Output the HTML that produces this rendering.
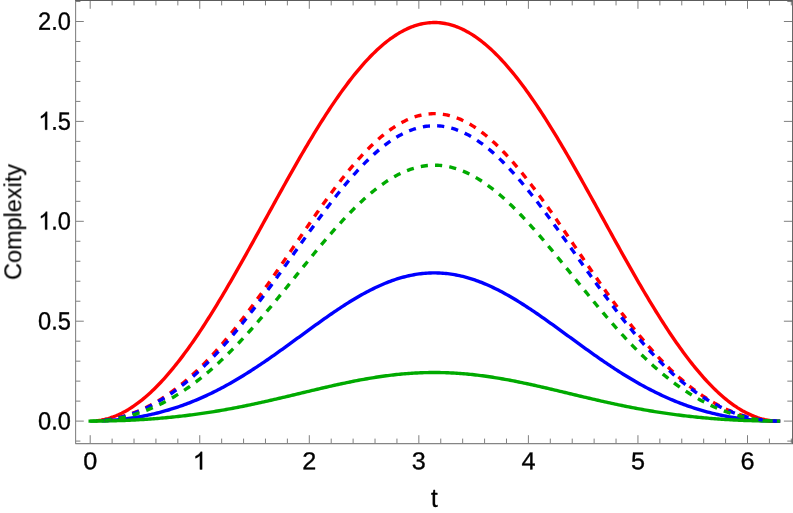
<!DOCTYPE html>
<html><head><meta charset="utf-8"><title>Complexity plot</title>
<style>
html,body{margin:0;padding:0;background:#fff;}
body{width:793px;height:513px;overflow:hidden;font-family:"Liberation Sans",sans-serif;}
svg{display:block;}
</style></head><body>
<svg width="793" height="513" viewBox="0 0 793 513">
<rect x="0" y="0" width="793" height="513" fill="#fff"/>
<path d="M90.20,443.50 v-8.30 M90.20,0.50 v8.30 M112.11,443.50 v-4.90 M112.11,0.50 v4.90 M134.02,443.50 v-4.90 M134.02,0.50 v4.90 M155.93,443.50 v-4.90 M155.93,0.50 v4.90 M177.84,443.50 v-4.90 M177.84,0.50 v4.90 M199.75,443.50 v-8.30 M199.75,0.50 v8.30 M221.66,443.50 v-4.90 M221.66,0.50 v4.90 M243.57,443.50 v-4.90 M243.57,0.50 v4.90 M265.48,443.50 v-4.90 M265.48,0.50 v4.90 M287.39,443.50 v-4.90 M287.39,0.50 v4.90 M309.30,443.50 v-8.30 M309.30,0.50 v8.30 M331.21,443.50 v-4.90 M331.21,0.50 v4.90 M353.12,443.50 v-4.90 M353.12,0.50 v4.90 M375.03,443.50 v-4.90 M375.03,0.50 v4.90 M396.94,443.50 v-4.90 M396.94,0.50 v4.90 M418.85,443.50 v-8.30 M418.85,0.50 v8.30 M440.76,443.50 v-4.90 M440.76,0.50 v4.90 M462.67,443.50 v-4.90 M462.67,0.50 v4.90 M484.58,443.50 v-4.90 M484.58,0.50 v4.90 M506.49,443.50 v-4.90 M506.49,0.50 v4.90 M528.40,443.50 v-8.30 M528.40,0.50 v8.30 M550.31,443.50 v-4.90 M550.31,0.50 v4.90 M572.22,443.50 v-4.90 M572.22,0.50 v4.90 M594.13,443.50 v-4.90 M594.13,0.50 v4.90 M616.04,443.50 v-4.90 M616.04,0.50 v4.90 M637.95,443.50 v-8.30 M637.95,0.50 v8.30 M659.86,443.50 v-4.90 M659.86,0.50 v4.90 M681.77,443.50 v-4.90 M681.77,0.50 v4.90 M703.68,443.50 v-4.90 M703.68,0.50 v4.90 M725.59,443.50 v-4.90 M725.59,0.50 v4.90 M747.50,443.50 v-8.30 M747.50,0.50 v8.30 M769.41,443.50 v-4.90 M769.41,0.50 v4.90 M791.32,443.50 v-4.90 M791.32,0.50 v4.90 M75.50,441.08 h4.90 M792.20,441.08 h-4.90 M75.50,421.10 h8.30 M792.20,421.10 h-8.30 M75.50,401.12 h4.90 M792.20,401.12 h-4.90 M75.50,381.14 h4.90 M792.20,381.14 h-4.90 M75.50,361.16 h4.90 M792.20,361.16 h-4.90 M75.50,341.18 h4.90 M792.20,341.18 h-4.90 M75.50,321.20 h8.30 M792.20,321.20 h-8.30 M75.50,301.22 h4.90 M792.20,301.22 h-4.90 M75.50,281.24 h4.90 M792.20,281.24 h-4.90 M75.50,261.26 h4.90 M792.20,261.26 h-4.90 M75.50,241.28 h4.90 M792.20,241.28 h-4.90 M75.50,221.30 h8.30 M792.20,221.30 h-8.30 M75.50,201.32 h4.90 M792.20,201.32 h-4.90 M75.50,181.34 h4.90 M792.20,181.34 h-4.90 M75.50,161.36 h4.90 M792.20,161.36 h-4.90 M75.50,141.38 h4.90 M792.20,141.38 h-4.90 M75.50,121.40 h8.30 M792.20,121.40 h-8.30 M75.50,101.42 h4.90 M792.20,101.42 h-4.90 M75.50,81.44 h4.90 M792.20,81.44 h-4.90 M75.50,61.46 h4.90 M792.20,61.46 h-4.90 M75.50,41.48 h4.90 M792.20,41.48 h-4.90 M75.50,21.50 h8.30 M792.20,21.50 h-8.30 M75.50,1.52 h4.90 M792.20,1.52 h-4.90" stroke="#5e5e5e" stroke-width="0.8" fill="none"/>
<path d="M75.60,0.50 V443.60 H793.00" fill="none" stroke="#858585" stroke-width="1.1" stroke-linejoin="round"/>
<path d="M75.10,0.5 H793" fill="none" stroke="#5c5c5c" stroke-width="1"/>
<path d="M792.5,0 V444.00" fill="none" stroke="#686868" stroke-width="1"/>
<path d="M97.87,420.63 L99.57,420.39 L101.27,420.12 L102.97,419.79 L104.68,419.42 L106.38,419.00 L108.08,418.54 L109.78,418.03 L111.48,417.47 L113.18,416.87 L114.88,416.22 L116.59,415.53 L118.29,414.79 L119.99,414.00 L121.69,413.18 L123.39,412.30 L125.09,411.38 L126.80,410.42 L128.50,409.42 L130.20,408.36 L131.90,407.27 L133.60,406.13 L135.30,404.95 L137.01,403.73 L138.71,402.46 L140.41,401.15 L142.11,399.80 L143.81,398.40 L145.51,396.97 L147.22,395.49 L148.92,393.98 L150.62,392.42 L152.32,390.82 L154.02,389.18 L155.72,387.50 L157.43,385.79 L159.13,384.03 L160.83,382.24 L162.53,380.40 L164.23,378.53 L165.93,376.63 L167.64,374.68 L169.34,372.70 L171.04,370.69 L172.74,368.64 L174.44,366.55 L176.14,364.43 L177.85,362.27 L179.55,360.09 L181.25,357.86 L182.95,355.61 L184.65,353.32 L186.35,351.01 L188.06,348.66 L189.76,346.28 L191.46,343.87 L193.16,341.43 L194.86,338.96 L196.56,336.47 L198.27,333.95 L199.97,331.40 L201.67,328.82 L203.37,326.22 L205.07,323.59 L206.77,320.94 L208.47,318.26 L210.18,315.56 L211.88,312.83 L213.58,310.09 L215.28,307.32 L216.98,304.53 L218.68,301.72 L220.39,298.90 L222.09,296.05 L223.79,293.18 L225.49,290.30 L227.19,287.40 L228.89,284.48 L230.60,281.55 L232.30,278.60 L234.00,275.64 L235.70,272.66 L237.40,269.68 L239.10,266.68 L240.81,263.66 L242.51,260.64 L244.21,257.61 L245.91,254.57 L247.61,251.51 L249.31,248.46 L251.02,245.39 L252.72,242.32 L254.42,239.24 L256.12,236.16 L257.82,233.07 L259.52,229.98 L261.23,226.89 L262.93,223.79 L264.63,220.69 L266.33,217.60 L268.03,214.50 L269.73,211.40 L271.44,208.31 L273.14,205.22 L274.84,202.13 L276.54,199.05 L278.24,195.97 L279.94,192.89 L281.65,189.82 L283.35,186.76 L285.05,183.71 L286.75,180.67 L288.45,177.63 L290.15,174.61 L291.86,171.59 L293.56,168.59 L295.26,165.60 L296.96,162.62 L298.66,159.66 L300.36,156.71 L302.06,153.77 L303.77,150.86 L305.47,147.95 L307.17,145.07 L308.87,142.20 L310.57,139.36 L312.27,136.53 L313.98,133.72 L315.68,130.94 L317.38,128.17 L319.08,125.43 L320.78,122.71 L322.48,120.01 L324.19,117.34 L325.89,114.70 L327.59,112.08 L329.29,109.48 L330.99,106.92 L332.69,104.38 L334.40,101.87 L336.10,99.39 L337.80,96.93 L339.50,94.51 L341.20,92.12 L342.90,89.76 L344.61,87.43 L346.31,85.14 L348.01,82.88 L349.71,80.65 L351.41,78.46 L353.11,76.30 L354.82,74.18 L356.52,72.09 L358.22,70.04 L359.92,68.03 L361.62,66.06 L363.32,64.12 L365.03,62.22 L366.73,60.37 L368.43,58.55 L370.13,56.77 L371.83,55.03 L373.53,53.34 L375.24,51.68 L376.94,50.07 L378.64,48.50 L380.34,46.97 L382.04,45.49 L383.74,44.04 L385.45,42.65 L387.15,41.29 L388.85,39.99 L390.55,38.72 L392.25,37.51 L393.95,36.33 L395.65,35.21 L397.36,34.13 L399.06,33.09 L400.76,32.11 L402.46,31.17 L404.16,30.28 L405.86,29.43 L407.57,28.64 L409.27,27.89 L410.97,27.19 L412.67,26.53 L414.37,25.93 L416.07,25.38 L417.78,24.87 L419.48,24.41 L421.18,24.01 L422.88,23.65 L424.58,23.34 L426.28,23.08 L427.99,22.87 L429.69,22.71 L431.39,22.59 L433.09,22.53 L434.79,22.52 L436.49,22.56 L438.20,22.64 L439.90,22.78 L441.60,22.97 L443.30,23.20 L445.00,23.49 L446.70,23.82 L448.41,24.21 L450.11,24.64 L451.81,25.12 L453.51,25.65 L455.21,26.23 L456.91,26.86 L458.62,27.54 L460.32,28.26 L462.02,29.03 L463.72,29.85 L465.42,30.72 L467.12,31.64 L468.83,32.60 L470.53,33.61 L472.23,34.67 L473.93,35.77 L475.63,36.92 L477.33,38.12 L479.03,39.36 L480.74,40.64 L482.44,41.97 L484.14,43.35 L485.84,44.77 L487.54,46.23 L489.24,47.74 L490.95,49.29 L492.65,50.88 L494.35,52.51 L496.05,54.19 L497.75,55.91 L499.45,57.67 L501.16,59.46 L502.86,61.30 L504.56,63.18 L506.26,65.10 L507.96,67.05 L509.66,69.05 L511.37,71.08 L513.07,73.15 L514.77,75.25 L516.47,77.39 L518.17,79.57 L519.87,81.78 L521.58,84.02 L523.28,86.30 L524.98,88.61 L526.68,90.95 L528.38,93.33 L530.08,95.73 L531.79,98.17 L533.49,100.64 L535.19,103.13 L536.89,105.66 L538.59,108.21 L540.29,110.79 L542.00,113.40 L543.70,116.03 L545.40,118.69 L547.10,121.38 L548.80,124.08 L550.50,126.82 L552.21,129.57 L553.91,132.34 L555.61,135.14 L557.31,137.96 L559.01,140.80 L560.71,143.65 L562.42,146.53 L564.12,149.42 L565.82,152.33 L567.52,155.26 L569.22,158.20 L570.92,161.16 L572.62,164.13 L574.33,167.11 L576.03,170.11 L577.73,173.12 L579.43,176.14 L581.13,179.17 L582.83,182.21 L584.54,185.26 L586.24,188.31 L587.94,191.38 L589.64,194.45 L591.34,197.53 L593.04,200.61 L594.75,203.69 L596.45,206.78 L598.15,209.88 L599.85,212.97 L601.55,216.07 L603.25,219.17 L604.96,222.26 L606.66,225.36 L608.36,228.45 L610.06,231.54 L611.76,234.63 L613.46,237.72 L615.17,240.80 L616.87,243.87 L618.57,246.94 L620.27,250.01 L621.97,253.06 L623.67,256.11 L625.38,259.15 L627.08,262.17 L628.78,265.19 L630.48,268.20 L632.18,271.19 L633.88,274.17 L635.59,277.14 L637.29,280.10 L638.99,283.04 L640.69,285.96 L642.39,288.87 L644.09,291.76 L645.80,294.64 L647.50,297.49 L649.20,300.33 L650.90,303.15 L652.60,305.95 L654.30,308.73 L656.01,311.48 L657.71,314.22 L659.41,316.93 L661.11,319.62 L662.81,322.28 L664.51,324.92 L666.21,327.54 L667.92,330.13 L669.62,332.69 L671.32,335.23 L673.02,337.74 L674.72,340.22 L676.42,342.67 L678.13,345.09 L679.83,347.49 L681.53,349.85 L683.23,352.18 L684.93,354.49 L686.63,356.76 L688.34,358.99 L690.04,361.20 L691.74,363.37 L693.44,365.51 L695.14,367.61 L696.84,369.68 L698.55,371.71 L700.25,373.71 L701.95,375.67 L703.65,377.60 L705.35,379.49 L707.05,381.34 L708.76,383.15 L710.46,384.92 L712.16,386.66 L713.86,388.36 L715.56,390.02 L717.26,391.63 L718.97,393.21 L720.67,394.75 L722.37,396.25 L724.07,397.70 L725.77,399.12 L727.47,400.49 L729.18,401.82 L730.88,403.11 L732.58,404.35 L734.28,405.55 L735.98,406.71 L737.68,407.83 L739.39,408.90 L741.09,409.93 L742.79,410.92 L744.49,411.86 L746.19,412.75 L747.89,413.60 L749.60,414.41 L751.30,415.17 L753.00,415.88 L754.70,416.55 L756.40,417.18 L758.10,417.76 L759.80,418.29 L761.51,418.78 L763.21,419.22 L764.91,419.61 L766.61,419.96 L768.31,420.26 L770.01,420.52 L771.72,420.73 L773.42,420.89 L775.12,421.01 L776.82,421.08 L778.52,421.10" fill="none" stroke="#ff0000" stroke-width="3.4" stroke-linecap="square" stroke-linejoin="round"/>
<path d="M103.35,420.80 L105.03,420.72 L106.72,420.63 L108.41,420.52 L110.10,420.41 L111.79,420.29 L113.47,420.16 L115.16,420.01 L116.85,419.86 L118.54,419.70 L120.23,419.53 L121.91,419.34 L123.60,419.15 L125.29,418.94 L126.98,418.73 L128.67,418.50 L130.35,418.27 L132.04,418.02 L133.73,417.76 L135.42,417.49 L137.10,417.21 L138.79,416.92 L140.48,416.62 L142.17,416.31 L143.86,415.99 L145.54,415.65 L147.23,415.30 L148.92,414.95 L150.61,414.58 L152.30,414.20 L153.98,413.81 L155.67,413.40 L157.36,412.99 L159.05,412.56 L160.74,412.12 L162.42,411.67 L164.11,411.21 L165.80,410.73 L167.49,410.25 L169.18,409.75 L170.86,409.24 L172.55,408.71 L174.24,408.18 L175.93,407.63 L177.62,407.07 L179.30,406.49 L180.99,405.91 L182.68,405.31 L184.37,404.70 L186.06,404.07 L187.74,403.44 L189.43,402.79 L191.12,402.13 L192.81,401.45 L194.49,400.77 L196.18,400.07 L197.87,399.35 L199.56,398.63 L201.25,397.89 L202.93,397.14 L204.62,396.38 L206.31,395.60 L208.00,394.81 L209.69,394.01 L211.37,393.20 L213.06,392.37 L214.75,391.53 L216.44,390.68 L218.13,389.82 L219.81,388.94 L221.50,388.05 L223.19,387.15 L224.88,386.24 L226.57,385.32 L228.25,384.38 L229.94,383.44 L231.63,382.48 L233.32,381.51 L235.01,380.53 L236.69,379.53 L238.38,378.53 L240.07,377.52 L241.76,376.49 L243.45,375.46 L245.13,374.41 L246.82,373.35 L248.51,372.29 L250.20,371.21 L251.88,370.13 L253.57,369.03 L255.26,367.93 L256.95,366.82 L258.64,365.70 L260.32,364.57 L262.01,363.43 L263.70,362.29 L265.39,361.14 L267.08,359.98 L268.76,358.81 L270.45,357.64 L272.14,356.46 L273.83,355.28 L275.52,354.09 L277.20,352.89 L278.89,351.69 L280.58,350.48 L282.27,349.27 L283.96,348.06 L285.64,346.84 L287.33,345.62 L289.02,344.39 L290.71,343.17 L292.40,341.94 L294.08,340.71 L295.77,339.48 L297.46,338.24 L299.15,337.01 L300.84,335.78 L302.52,334.54 L304.21,333.31 L305.90,332.08 L307.59,330.85 L309.27,329.62 L310.96,328.39 L312.65,327.17 L314.34,325.95 L316.03,324.73 L317.71,323.51 L319.40,322.31 L321.09,321.10 L322.78,319.90 L324.47,318.71 L326.15,317.52 L327.84,316.34 L329.53,315.17 L331.22,314.00 L332.91,312.85 L334.59,311.70 L336.28,310.56 L337.97,309.43 L339.66,308.31 L341.35,307.20 L343.03,306.10 L344.72,305.01 L346.41,303.93 L348.10,302.86 L349.79,301.81 L351.47,300.77 L353.16,299.74 L354.85,298.73 L356.54,297.73 L358.23,296.74 L359.91,295.77 L361.60,294.82 L363.29,293.88 L364.98,292.96 L366.67,292.05 L368.35,291.16 L370.04,290.29 L371.73,289.43 L373.42,288.60 L375.10,287.78 L376.79,286.98 L378.48,286.20 L380.17,285.44 L381.86,284.70 L383.54,283.97 L385.23,283.27 L386.92,282.59 L388.61,281.93 L390.30,281.29 L391.98,280.68 L393.67,280.08 L395.36,279.51 L397.05,278.96 L398.74,278.43 L400.42,277.93 L402.11,277.45 L403.80,276.99 L405.49,276.55 L407.18,276.14 L408.86,275.75 L410.55,275.39 L412.24,275.05 L413.93,274.73 L415.62,274.44 L417.30,274.18 L418.99,273.93 L420.68,273.72 L422.37,273.53 L424.06,273.36 L425.74,273.22 L427.43,273.10 L429.12,273.01 L430.81,272.94 L432.49,272.90 L434.18,272.89 L435.87,272.90 L437.56,272.93 L439.25,272.99 L440.93,273.08 L442.62,273.19 L444.31,273.33 L446.00,273.49 L447.69,273.68 L449.37,273.89 L451.06,274.12 L452.75,274.38 L454.44,274.67 L456.13,274.98 L457.81,275.31 L459.50,275.67 L461.19,276.06 L462.88,276.46 L464.57,276.89 L466.25,277.35 L467.94,277.82 L469.63,278.32 L471.32,278.85 L473.01,279.39 L474.69,279.96 L476.38,280.55 L478.07,281.16 L479.76,281.80 L481.45,282.45 L483.13,283.13 L484.82,283.82 L486.51,284.54 L488.20,285.28 L489.88,286.04 L491.57,286.81 L493.26,287.61 L494.95,288.42 L496.64,289.25 L498.32,290.11 L500.01,290.97 L501.70,291.86 L503.39,292.76 L505.08,293.68 L506.76,294.62 L508.45,295.57 L510.14,296.54 L511.83,297.52 L513.52,298.52 L515.20,299.53 L516.89,300.55 L518.58,301.59 L520.27,302.64 L521.96,303.70 L523.64,304.78 L525.33,305.86 L527.02,306.96 L528.71,308.07 L530.40,309.19 L532.08,310.32 L533.77,311.46 L535.46,312.60 L537.15,313.76 L538.84,314.92 L540.52,316.09 L542.21,317.27 L543.90,318.46 L545.59,319.65 L547.27,320.85 L548.96,322.05 L550.65,323.26 L552.34,324.47 L554.03,325.69 L555.71,326.91 L557.40,328.13 L559.09,329.36 L560.78,330.59 L562.47,331.82 L564.15,333.05 L565.84,334.28 L567.53,335.51 L569.22,336.75 L570.91,337.98 L572.59,339.22 L574.28,340.45 L575.97,341.68 L577.66,342.91 L579.35,344.14 L581.03,345.36 L582.72,346.58 L584.41,347.80 L586.10,349.02 L587.79,350.23 L589.47,351.43 L591.16,352.64 L592.85,353.83 L594.54,355.02 L596.23,356.21 L597.91,357.39 L599.60,358.56 L601.29,359.73 L602.98,360.89 L604.66,362.05 L606.35,363.19 L608.04,364.33 L609.73,365.46 L611.42,366.58 L613.10,367.70 L614.79,368.80 L616.48,369.90 L618.17,370.98 L619.86,372.06 L621.54,373.13 L623.23,374.19 L624.92,375.24 L626.61,376.27 L628.30,377.30 L629.98,378.32 L631.67,379.32 L633.36,380.32 L635.05,381.30 L636.74,382.27 L638.42,383.23 L640.11,384.18 L641.80,385.12 L643.49,386.05 L645.18,386.96 L646.86,387.87 L648.55,388.76 L650.24,389.63 L651.93,390.50 L653.62,391.35 L655.30,392.19 L656.99,393.02 L658.68,393.84 L660.37,394.64 L662.05,395.44 L663.74,396.21 L665.43,396.98 L667.12,397.73 L668.81,398.47 L670.49,399.20 L672.18,399.92 L673.87,400.62 L675.56,401.31 L677.25,401.99 L678.93,402.65 L680.62,403.30 L682.31,403.94 L684.00,404.57 L685.69,405.18 L687.37,405.78 L689.06,406.37 L690.75,406.95 L692.44,407.51 L694.13,408.06 L695.81,408.60 L697.50,409.13 L699.19,409.64 L700.88,410.14 L702.57,410.63 L704.25,411.11 L705.94,411.57 L707.63,412.03 L709.32,412.47 L711.01,412.90 L712.69,413.32 L714.38,413.72 L716.07,414.12 L717.76,414.50 L719.44,414.87 L721.13,415.23 L722.82,415.58 L724.51,415.92 L726.20,416.24 L727.88,416.56 L729.57,416.86 L731.26,417.15 L732.95,417.43 L734.64,417.71 L736.32,417.97 L738.01,418.21 L739.70,418.45 L741.39,418.68 L743.08,418.90 L744.76,419.10 L746.45,419.30 L748.14,419.49 L749.83,419.66 L751.52,419.83 L753.20,419.98 L754.89,420.13 L756.58,420.26 L758.27,420.39 L759.96,420.50 L761.64,420.61 L763.33,420.70 L765.02,420.78 L766.71,420.86 L768.40,420.92 L770.08,420.98 L771.77,421.02 L773.46,421.06 L775.15,421.08 L776.84,421.10 L778.52,421.10" fill="none" stroke="#0000ff" stroke-width="3.4" stroke-linecap="square" stroke-linejoin="round"/>
<path d="M90.20,421.10 L91.92,421.10 L93.64,421.09 L95.36,421.08 L97.08,421.07 L98.80,421.06 L100.52,421.04 L102.25,421.02 L103.97,420.99 L105.69,420.96 L107.41,420.93 L109.13,420.90 L110.85,420.86 L112.57,420.82 L114.29,420.77 L116.01,420.72 L117.73,420.67 L119.45,420.61 L121.17,420.55 L122.90,420.49 L124.62,420.43 L126.34,420.36 L128.06,420.28 L129.78,420.20 L131.50,420.12 L133.22,420.04 L134.94,419.95 L136.66,419.86 L138.38,419.76 L140.10,419.67 L141.82,419.56 L143.55,419.46 L145.27,419.35 L146.99,419.23 L148.71,419.11 L150.43,418.99 L152.15,418.87 L153.87,418.74 L155.59,418.60 L157.31,418.46 L159.03,418.32 L160.75,418.18 L162.47,418.03 L164.19,417.87 L165.92,417.71 L167.64,417.55 L169.36,417.39 L171.08,417.22 L172.80,417.04 L174.52,416.86 L176.24,416.68 L177.96,416.49 L179.68,416.30 L181.40,416.10 L183.12,415.90 L184.84,415.70 L186.57,415.49 L188.29,415.28 L190.01,415.06 L191.73,414.84 L193.45,414.61 L195.17,414.38 L196.89,414.15 L198.61,413.91 L200.33,413.66 L202.05,413.42 L203.77,413.16 L205.49,412.91 L207.21,412.65 L208.94,412.38 L210.66,412.11 L212.38,411.84 L214.10,411.56 L215.82,411.28 L217.54,410.99 L219.26,410.70 L220.98,410.41 L222.70,410.11 L224.42,409.81 L226.14,409.50 L227.86,409.19 L229.59,408.87 L231.31,408.55 L233.03,408.23 L234.75,407.90 L236.47,407.57 L238.19,407.24 L239.91,406.90 L241.63,406.56 L243.35,406.21 L245.07,405.86 L246.79,405.51 L248.51,405.15 L250.24,404.80 L251.96,404.43 L253.68,404.07 L255.40,403.70 L257.12,403.33 L258.84,402.95 L260.56,402.57 L262.28,402.19 L264.00,401.81 L265.72,401.43 L267.44,401.04 L269.16,400.65 L270.88,400.25 L272.61,399.86 L274.33,399.46 L276.05,399.06 L277.77,398.66 L279.49,398.26 L281.21,397.86 L282.93,397.45 L284.65,397.05 L286.37,396.64 L288.09,396.23 L289.81,395.82 L291.53,395.41 L293.26,395.00 L294.98,394.58 L296.70,394.17 L298.42,393.76 L300.14,393.35 L301.86,392.93 L303.58,392.52 L305.30,392.11 L307.02,391.69 L308.74,391.28 L310.46,390.87 L312.18,390.46 L313.90,390.05 L315.63,389.65 L317.35,389.24 L319.07,388.83 L320.79,388.43 L322.51,388.03 L324.23,387.63 L325.95,387.23 L327.67,386.83 L329.39,386.44 L331.11,386.05 L332.83,385.66 L334.55,385.28 L336.28,384.90 L338.00,384.52 L339.72,384.14 L341.44,383.77 L343.16,383.40 L344.88,383.04 L346.60,382.68 L348.32,382.32 L350.04,381.97 L351.76,381.62 L353.48,381.28 L355.20,380.94 L356.93,380.60 L358.65,380.27 L360.37,379.95 L362.09,379.63 L363.81,379.32 L365.53,379.01 L367.25,378.71 L368.97,378.41 L370.69,378.12 L372.41,377.84 L374.13,377.56 L375.85,377.29 L377.57,377.02 L379.30,376.76 L381.02,376.51 L382.74,376.27 L384.46,376.03 L386.18,375.80 L387.90,375.57 L389.62,375.36 L391.34,375.15 L393.06,374.95 L394.78,374.75 L396.50,374.56 L398.22,374.38 L399.95,374.21 L401.67,374.05 L403.39,373.89 L405.11,373.75 L406.83,373.61 L408.55,373.47 L410.27,373.35 L411.99,373.24 L413.71,373.13 L415.43,373.03 L417.15,372.94 L418.87,372.86 L420.60,372.78 L422.32,372.72 L424.04,372.66 L425.76,372.62 L427.48,372.58 L429.20,372.55 L430.92,372.53 L432.64,372.51 L434.36,372.51 L436.08,372.51 L437.80,372.53 L439.52,372.55 L441.24,372.58 L442.97,372.62 L444.69,372.66 L446.41,372.72 L448.13,372.78 L449.85,372.86 L451.57,372.94 L453.29,373.03 L455.01,373.13 L456.73,373.24 L458.45,373.35 L460.17,373.47 L461.89,373.61 L463.62,373.75 L465.34,373.89 L467.06,374.05 L468.78,374.21 L470.50,374.38 L472.22,374.56 L473.94,374.75 L475.66,374.95 L477.38,375.15 L479.10,375.36 L480.82,375.57 L482.54,375.80 L484.26,376.03 L485.99,376.27 L487.71,376.51 L489.43,376.76 L491.15,377.02 L492.87,377.29 L494.59,377.56 L496.31,377.84 L498.03,378.12 L499.75,378.41 L501.47,378.71 L503.19,379.01 L504.91,379.32 L506.64,379.63 L508.36,379.95 L510.08,380.27 L511.80,380.60 L513.52,380.94 L515.24,381.28 L516.96,381.62 L518.68,381.97 L520.40,382.32 L522.12,382.68 L523.84,383.04 L525.56,383.40 L527.29,383.77 L529.01,384.14 L530.73,384.52 L532.45,384.90 L534.17,385.28 L535.89,385.66 L537.61,386.05 L539.33,386.44 L541.05,386.83 L542.77,387.23 L544.49,387.63 L546.21,388.03 L547.93,388.43 L549.66,388.83 L551.38,389.24 L553.10,389.65 L554.82,390.05 L556.54,390.46 L558.26,390.87 L559.98,391.28 L561.70,391.69 L563.42,392.11 L565.14,392.52 L566.86,392.93 L568.58,393.35 L570.31,393.76 L572.03,394.17 L573.75,394.58 L575.47,395.00 L577.19,395.41 L578.91,395.82 L580.63,396.23 L582.35,396.64 L584.07,397.05 L585.79,397.45 L587.51,397.86 L589.23,398.26 L590.95,398.66 L592.68,399.06 L594.40,399.46 L596.12,399.86 L597.84,400.25 L599.56,400.65 L601.28,401.04 L603.00,401.43 L604.72,401.81 L606.44,402.19 L608.16,402.57 L609.88,402.95 L611.60,403.33 L613.33,403.70 L615.05,404.07 L616.77,404.43 L618.49,404.80 L620.21,405.15 L621.93,405.51 L623.65,405.86 L625.37,406.21 L627.09,406.56 L628.81,406.90 L630.53,407.24 L632.25,407.57 L633.98,407.90 L635.70,408.23 L637.42,408.55 L639.14,408.87 L640.86,409.19 L642.58,409.50 L644.30,409.81 L646.02,410.11 L647.74,410.41 L649.46,410.70 L651.18,410.99 L652.90,411.28 L654.62,411.56 L656.35,411.84 L658.07,412.11 L659.79,412.38 L661.51,412.65 L663.23,412.91 L664.95,413.16 L666.67,413.42 L668.39,413.66 L670.11,413.91 L671.83,414.15 L673.55,414.38 L675.27,414.61 L677.00,414.84 L678.72,415.06 L680.44,415.28 L682.16,415.49 L683.88,415.70 L685.60,415.90 L687.32,416.10 L689.04,416.30 L690.76,416.49 L692.48,416.68 L694.20,416.86 L695.92,417.04 L697.65,417.22 L699.37,417.39 L701.09,417.55 L702.81,417.71 L704.53,417.87 L706.25,418.03 L707.97,418.18 L709.69,418.32 L711.41,418.46 L713.13,418.60 L714.85,418.74 L716.57,418.87 L718.29,418.99 L720.02,419.11 L721.74,419.23 L723.46,419.35 L725.18,419.46 L726.90,419.56 L728.62,419.67 L730.34,419.76 L732.06,419.86 L733.78,419.95 L735.50,420.04 L737.22,420.12 L738.94,420.20 L740.67,420.28 L742.39,420.36 L744.11,420.43 L745.83,420.49 L747.55,420.55 L749.27,420.61 L750.99,420.67 L752.71,420.72 L754.43,420.77 L756.15,420.82 L757.87,420.86 L759.59,420.90 L761.31,420.93 L763.04,420.96 L764.76,420.99 L766.48,421.02 L768.20,421.04 L769.92,421.06 L771.64,421.07 L773.36,421.08 L775.08,421.09 L776.80,421.10 L778.52,421.10" fill="none" stroke="#00aa00" stroke-width="3.4" stroke-linecap="square" stroke-linejoin="round"/>
<path d="M104.49,420.21 L106.18,419.99 L107.86,419.74 L109.55,419.47 L111.23,419.18 L112.92,418.86 L114.60,418.51 L116.29,418.14 L117.97,417.74 L119.66,417.32 L121.34,416.88 L123.03,416.41 L124.71,415.91 L126.40,415.39 L128.08,414.84 L129.77,414.27 L131.45,413.68 L133.14,413.05 L134.82,412.41 L136.51,411.74 L138.20,411.04 L139.88,410.31 L141.57,409.57 L143.25,408.79 L144.94,407.99 L146.62,407.17 L148.31,406.32 L149.99,405.44 L151.68,404.54 L153.36,403.61 L155.05,402.65 L156.73,401.67 L158.42,400.67 L160.10,399.64 L161.79,398.58 L163.47,397.50 L165.16,396.39 L166.84,395.26 L168.53,394.10 L170.21,392.91 L171.90,391.70 L173.58,390.46 L175.27,389.20 L176.95,387.91 L178.64,386.59 L180.32,385.25 L182.01,383.89 L183.69,382.49 L185.38,381.08 L187.06,379.63 L188.75,378.17 L190.43,376.67 L192.12,375.15 L193.80,373.61 L195.49,372.04 L197.17,370.45 L198.86,368.83 L200.54,367.19 L202.23,365.52 L203.91,363.83 L205.60,362.11 L207.28,360.37 L208.97,358.61 L210.65,356.82 L212.34,355.01 L214.02,353.18 L215.71,351.32 L217.39,349.44 L219.08,347.54 L220.76,345.62 L222.45,343.67 L224.13,341.71 L225.82,339.72 L227.50,337.71 L229.19,335.68 L230.87,333.62 L232.56,331.55 L234.24,329.46 L235.93,327.35 L237.61,325.22 L239.30,323.07 L240.98,320.91 L242.67,318.72 L244.35,316.52 L246.04,314.30 L247.72,312.07 L249.41,309.81 L251.09,307.55 L252.78,305.26 L254.47,302.97 L256.15,300.65 L257.84,298.33 L259.52,295.99 L261.21,293.64 L262.89,291.28 L264.58,288.90 L266.26,286.52 L267.95,284.12 L269.63,281.72 L271.32,279.30 L273.00,276.88 L274.69,274.45 L276.37,272.01 L278.06,269.56 L279.74,267.11 L281.43,264.66 L283.11,262.19 L284.80,259.73 L286.48,257.26 L288.17,254.79 L289.85,252.32 L291.54,249.84 L293.22,247.37 L294.91,244.89 L296.59,242.42 L298.28,239.95 L299.96,237.48 L301.65,235.01 L303.33,232.55 L305.02,230.09 L306.70,227.64 L308.39,225.20 L310.07,222.76 L311.76,220.33 L313.44,217.90 L315.13,215.49 L316.81,213.09 L318.50,210.70 L320.18,208.32 L321.87,205.95 L323.55,203.60 L325.24,201.26 L326.92,198.93 L328.61,196.62 L330.29,194.33 L331.98,192.06 L333.66,189.80 L335.35,187.56 L337.03,185.34 L338.72,183.15 L340.40,180.97 L342.09,178.82 L343.77,176.68 L345.46,174.58 L347.14,172.49 L348.83,170.44 L350.51,168.40 L352.20,166.40 L353.88,164.42 L355.57,162.47 L357.25,160.55 L358.94,158.66 L360.62,156.80 L362.31,154.97 L363.99,153.17 L365.68,151.40 L367.37,149.67 L369.05,147.97 L370.74,146.31 L372.42,144.68 L374.11,143.09 L375.79,141.53 L377.48,140.01 L379.16,138.53 L380.85,137.08 L382.53,135.68 L384.22,134.31 L385.90,132.98 L387.59,131.70 L389.27,130.45 L390.96,129.25 L392.64,128.08 L394.33,126.96 L396.01,125.88 L397.70,124.85 L399.38,123.86 L401.07,122.91 L402.75,122.01 L404.44,121.15 L406.12,120.34 L407.81,119.57 L409.49,118.85 L411.18,118.17 L412.86,117.54 L414.55,116.96 L416.23,116.42 L417.92,115.93 L419.60,115.49 L421.29,115.09 L422.97,114.74 L424.66,114.44 L426.34,114.19 L428.03,113.99 L429.71,113.83 L431.40,113.72 L433.08,113.66 L434.77,113.65 L436.45,113.68 L438.14,113.77 L439.82,113.90 L441.51,114.08 L443.19,114.31 L444.88,114.58 L446.56,114.91 L448.25,115.28 L449.93,115.70 L451.62,116.16 L453.30,116.67 L454.99,117.23 L456.67,117.84 L458.36,118.49 L460.04,119.19 L461.73,119.93 L463.41,120.72 L465.10,121.56 L466.78,122.44 L468.47,123.36 L470.15,124.33 L471.84,125.34 L473.52,126.40 L475.21,127.50 L476.89,128.64 L478.58,129.82 L480.26,131.05 L481.95,132.31 L483.64,133.62 L485.32,134.96 L487.01,136.35 L488.69,137.77 L490.38,139.24 L492.06,140.74 L493.75,142.28 L495.43,143.85 L497.12,145.46 L498.80,147.11 L500.49,148.79 L502.17,150.50 L503.86,152.25 L505.54,154.03 L507.23,155.85 L508.91,157.69 L510.60,159.57 L512.28,161.47 L513.97,163.41 L515.65,165.37 L517.34,167.36 L519.02,169.38 L520.71,171.43 L522.39,173.50 L524.08,175.59 L525.76,177.71 L527.45,179.85 L529.13,182.02 L530.82,184.20 L532.50,186.41 L534.19,188.64 L535.87,190.89 L537.56,193.15 L539.24,195.43 L540.93,197.73 L542.61,200.05 L544.30,202.38 L545.98,204.73 L547.67,207.09 L549.35,209.46 L551.04,211.85 L552.72,214.25 L554.41,216.65 L556.09,219.07 L557.78,221.50 L559.46,223.93 L561.15,226.37 L562.83,228.82 L564.52,231.28 L566.20,233.74 L567.89,236.20 L569.57,238.67 L571.26,241.14 L572.94,243.61 L574.63,246.09 L576.31,248.56 L578.00,251.04 L579.68,253.51 L581.37,255.98 L583.05,258.45 L584.74,260.92 L586.42,263.38 L588.11,265.84 L589.79,268.30 L591.48,270.74 L593.16,273.19 L594.85,275.62 L596.54,278.05 L598.22,280.47 L599.91,282.88 L601.59,285.28 L603.28,287.67 L604.96,290.05 L606.65,292.42 L608.33,294.78 L610.02,297.12 L611.70,299.45 L613.39,301.77 L615.07,304.08 L616.76,306.37 L618.44,308.64 L620.13,310.90 L621.81,313.15 L623.50,315.37 L625.18,317.58 L626.87,319.78 L628.55,321.95 L630.24,324.11 L631.92,326.25 L633.61,328.37 L635.29,330.47 L636.98,332.55 L638.66,334.62 L640.35,336.66 L642.03,338.68 L643.72,340.68 L645.40,342.66 L647.09,344.61 L648.77,346.55 L650.46,348.46 L652.14,350.35 L653.83,352.22 L655.51,354.07 L657.20,355.89 L658.88,357.69 L660.57,359.47 L662.25,361.22 L663.94,362.95 L665.62,364.65 L667.31,366.33 L668.99,367.98 L670.68,369.62 L672.36,371.22 L674.05,372.80 L675.73,374.36 L677.42,375.89 L679.10,377.40 L680.79,378.88 L682.47,380.33 L684.16,381.76 L685.84,383.17 L687.53,384.55 L689.21,385.90 L690.90,387.23 L692.58,388.53 L694.27,389.81 L695.95,391.06 L697.64,392.29 L699.32,393.48 L701.01,394.66 L702.69,395.81 L704.38,396.93 L706.06,398.02 L707.75,399.09 L709.43,400.14 L711.12,401.16 L712.81,402.15 L714.49,403.12 L716.18,404.06 L717.86,404.97 L719.55,405.86 L721.23,406.73 L722.92,407.57 L724.60,408.38 L726.29,409.17 L727.97,409.93 L729.66,410.67 L731.34,411.38 L733.03,412.06 L734.71,412.72 L736.40,413.36 L738.08,413.97 L739.77,414.55 L741.45,415.11 L743.14,415.64 L744.82,416.15 L746.51,416.64 L748.19,417.10 L749.88,417.53 L751.56,417.94 L753.25,418.32 L754.93,418.68 L756.62,419.01 L758.30,419.32 L759.99,419.61 L761.67,419.87 L763.36,420.10 L765.04,420.31 L766.73,420.50 L768.41,420.66 L770.10,420.79 L771.78,420.90 L773.47,420.99 L775.15,421.05 L776.84,421.09 L778.52,421.10" fill="none" stroke="#ff0000" stroke-width="3.4" stroke-dasharray="7.165 7.165" stroke-linejoin="round"/>
<path d="M104.50,420.25 L106.18,420.04 L107.87,419.80 L109.55,419.55 L111.24,419.26 L112.92,418.96 L114.61,418.63 L116.29,418.27 L117.98,417.89 L119.66,417.49 L121.35,417.07 L123.03,416.62 L124.72,416.14 L126.40,415.65 L128.09,415.12 L129.77,414.58 L131.46,414.01 L133.14,413.41 L134.83,412.80 L136.51,412.15 L138.20,411.49 L139.88,410.80 L141.57,410.08 L143.25,409.34 L144.94,408.58 L146.62,407.79 L148.31,406.97 L149.99,406.13 L151.68,405.27 L153.36,404.38 L155.05,403.47 L156.73,402.54 L158.42,401.57 L160.10,400.59 L161.79,399.58 L163.47,398.54 L165.16,397.48 L166.84,396.40 L168.53,395.29 L170.21,394.15 L171.90,392.99 L173.58,391.81 L175.27,390.60 L176.95,389.36 L178.64,388.11 L180.32,386.82 L182.01,385.52 L183.69,384.18 L185.38,382.83 L187.07,381.44 L188.75,380.04 L190.44,378.61 L192.12,377.16 L193.81,375.68 L195.49,374.17 L197.18,372.65 L198.86,371.10 L200.55,369.52 L202.23,367.93 L203.92,366.31 L205.60,364.66 L207.29,362.99 L208.97,361.30 L210.66,359.59 L212.34,357.86 L214.03,356.10 L215.71,354.32 L217.40,352.52 L219.08,350.69 L220.77,348.85 L222.45,346.98 L224.14,345.10 L225.82,343.19 L227.51,341.26 L229.19,339.31 L230.88,337.34 L232.56,335.36 L234.25,333.35 L235.93,331.32 L237.62,329.28 L239.30,327.22 L240.99,325.14 L242.67,323.04 L244.36,320.93 L246.04,318.80 L247.73,316.65 L249.41,314.49 L251.10,312.31 L252.78,310.12 L254.47,307.91 L256.15,305.69 L257.84,303.46 L259.52,301.22 L261.21,298.96 L262.89,296.69 L264.58,294.41 L266.26,292.11 L267.95,289.81 L269.63,287.50 L271.32,285.18 L273.00,282.85 L274.69,280.52 L276.37,278.17 L278.06,275.82 L279.74,273.47 L281.43,271.11 L283.11,268.74 L284.80,266.37 L286.48,264.00 L288.17,261.62 L289.85,259.24 L291.54,256.86 L293.22,254.48 L294.91,252.10 L296.59,249.73 L298.28,247.35 L299.96,244.97 L301.65,242.60 L303.33,240.23 L305.02,237.87 L306.70,235.51 L308.39,233.16 L310.07,230.81 L311.76,228.47 L313.44,226.14 L315.13,223.82 L316.82,221.51 L318.50,219.21 L320.19,216.92 L321.87,214.64 L323.56,212.37 L325.24,210.12 L326.93,207.89 L328.61,205.66 L330.30,203.46 L331.98,201.27 L333.67,199.10 L335.35,196.94 L337.04,194.81 L338.72,192.69 L340.41,190.60 L342.09,188.52 L343.78,186.47 L345.46,184.44 L347.15,182.43 L348.83,180.45 L350.52,178.50 L352.20,176.57 L353.89,174.66 L355.57,172.78 L357.26,170.93 L358.94,169.11 L360.63,167.32 L362.31,165.56 L364.00,163.83 L365.68,162.13 L367.37,160.46 L369.05,158.82 L370.74,157.22 L372.42,155.65 L374.11,154.12 L375.79,152.62 L377.48,151.15 L379.16,149.72 L380.85,148.33 L382.53,146.98 L384.22,145.66 L385.90,144.38 L387.59,143.14 L389.27,141.94 L390.96,140.78 L392.64,139.66 L394.33,138.58 L396.01,137.54 L397.70,136.55 L399.38,135.59 L401.07,134.68 L402.75,133.81 L404.44,132.98 L406.12,132.20 L407.81,131.46 L409.49,130.76 L411.18,130.11 L412.86,129.51 L414.55,128.94 L416.23,128.43 L417.92,127.95 L419.60,127.53 L421.29,127.15 L422.97,126.81 L424.66,126.52 L426.34,126.28 L428.03,126.08 L429.71,125.93 L431.40,125.83 L433.08,125.77 L434.77,125.76 L436.45,125.79 L438.14,125.87 L439.82,126.00 L441.51,126.17 L443.19,126.39 L444.88,126.66 L446.57,126.97 L448.25,127.33 L449.94,127.73 L451.62,128.18 L453.31,128.67 L454.99,129.21 L456.68,129.79 L458.36,130.42 L460.05,131.10 L461.73,131.81 L463.42,132.57 L465.10,133.38 L466.79,134.23 L468.47,135.12 L470.16,136.05 L471.84,137.02 L473.53,138.04 L475.21,139.10 L476.90,140.20 L478.58,141.34 L480.27,142.52 L481.95,143.74 L483.64,145.00 L485.32,146.29 L487.01,147.63 L488.69,149.00 L490.38,150.41 L492.06,151.86 L493.75,153.34 L495.43,154.85 L497.12,156.41 L498.80,157.99 L500.49,159.61 L502.17,161.26 L503.86,162.95 L505.54,164.66 L507.23,166.41 L508.91,168.19 L510.60,169.99 L512.28,171.83 L513.97,173.69 L515.65,175.58 L517.34,177.50 L519.02,179.44 L520.71,181.41 L522.39,183.40 L524.08,185.42 L525.76,187.46 L527.45,189.52 L529.13,191.61 L530.82,193.71 L532.50,195.84 L534.19,197.98 L535.87,200.15 L537.56,202.33 L539.24,204.52 L540.93,206.74 L542.61,208.97 L544.30,211.21 L545.98,213.47 L547.67,215.74 L549.35,218.03 L551.04,220.32 L552.72,222.63 L554.41,224.94 L556.09,227.27 L557.78,229.60 L559.46,231.95 L561.15,234.30 L562.83,236.65 L564.52,239.01 L566.20,241.38 L567.89,243.75 L569.57,246.12 L571.26,248.50 L572.94,250.88 L574.63,253.26 L576.32,255.64 L578.00,258.02 L579.69,260.39 L581.37,262.77 L583.06,265.15 L584.74,267.52 L586.43,269.89 L588.11,272.25 L589.80,274.61 L591.48,276.96 L593.17,279.31 L594.85,281.65 L596.54,283.98 L598.22,286.31 L599.91,288.62 L601.59,290.93 L603.28,293.23 L604.96,295.51 L606.65,297.79 L608.33,300.05 L610.02,302.31 L611.70,304.54 L613.39,306.77 L615.07,308.98 L616.76,311.18 L618.44,313.37 L620.13,315.54 L621.81,317.69 L623.50,319.83 L625.18,321.95 L626.87,324.06 L628.55,326.15 L630.24,328.22 L631.92,330.27 L633.61,332.31 L635.29,334.32 L636.98,336.32 L638.66,338.30 L640.35,340.26 L642.03,342.20 L643.72,344.11 L645.40,346.01 L647.09,347.89 L648.77,349.74 L650.46,351.58 L652.14,353.39 L653.83,355.18 L655.51,356.95 L657.20,358.70 L658.88,360.42 L660.57,362.13 L662.25,363.81 L663.94,365.46 L665.62,367.09 L667.31,368.70 L668.99,370.29 L670.68,371.85 L672.36,373.39 L674.05,374.91 L675.73,376.40 L677.42,377.86 L679.10,379.31 L680.79,380.72 L682.47,382.12 L684.16,383.49 L685.84,384.83 L687.53,386.15 L689.21,387.45 L690.90,388.72 L692.58,389.97 L694.27,391.19 L695.95,392.38 L697.64,393.56 L699.32,394.70 L701.01,395.83 L702.70,396.93 L704.38,398.00 L706.07,399.05 L707.75,400.07 L709.44,401.07 L711.12,402.04 L712.81,402.99 L714.49,403.92 L716.18,404.82 L717.86,405.69 L719.55,406.54 L721.23,407.37 L722.92,408.17 L724.60,408.95 L726.29,409.70 L727.97,410.43 L729.66,411.13 L731.34,411.81 L733.03,412.47 L734.71,413.10 L736.40,413.71 L738.08,414.29 L739.77,414.85 L741.45,415.38 L743.14,415.89 L744.82,416.38 L746.51,416.84 L748.19,417.28 L749.88,417.69 L751.56,418.08 L753.25,418.45 L754.93,418.79 L756.62,419.11 L758.30,419.40 L759.99,419.67 L761.67,419.92 L763.36,420.15 L765.04,420.35 L766.73,420.52 L768.41,420.68 L770.10,420.81 L771.78,420.91 L773.47,420.99 L775.15,421.05 L776.84,421.09 L778.52,421.10" fill="none" stroke="#0000ff" stroke-width="3.4" stroke-dasharray="7.165 7.165" stroke-linejoin="round"/>
<path d="M90.20,421.10 L91.92,421.09 L93.64,421.06 L95.36,421.01 L97.08,420.94 L98.80,420.85 L100.52,420.74 L102.25,420.61 L103.97,420.46 L105.69,420.29 L107.41,420.10 L109.13,419.89 L110.85,419.66 L112.57,419.41 L114.29,419.14 L116.01,418.85 L117.73,418.54 L119.45,418.21 L121.17,417.85 L122.90,417.48 L124.62,417.09 L126.34,416.68 L128.06,416.24 L129.78,415.79 L131.50,415.31 L133.22,414.81 L134.94,414.30 L136.66,413.76 L138.38,413.20 L140.10,412.62 L141.82,412.01 L143.55,411.39 L145.27,410.75 L146.99,410.08 L148.71,409.39 L150.43,408.68 L152.15,407.95 L153.87,407.20 L155.59,406.42 L157.31,405.63 L159.03,404.81 L160.75,403.97 L162.47,403.11 L164.19,402.22 L165.92,401.32 L167.64,400.39 L169.36,399.44 L171.08,398.46 L172.80,397.47 L174.52,396.45 L176.24,395.41 L177.96,394.35 L179.68,393.27 L181.40,392.16 L183.12,391.03 L184.84,389.88 L186.57,388.71 L188.29,387.51 L190.01,386.29 L191.73,385.05 L193.45,383.79 L195.17,382.50 L196.89,381.20 L198.61,379.87 L200.33,378.52 L202.05,377.14 L203.77,375.75 L205.49,374.33 L207.21,372.90 L208.94,371.44 L210.66,369.96 L212.38,368.45 L214.10,366.93 L215.82,365.39 L217.54,363.82 L219.26,362.24 L220.98,360.63 L222.70,359.01 L224.42,357.36 L226.14,355.70 L227.86,354.01 L229.59,352.31 L231.31,350.59 L233.03,348.85 L234.75,347.09 L236.47,345.31 L238.19,343.52 L239.91,341.71 L241.63,339.88 L243.35,338.03 L245.07,336.17 L246.79,334.29 L248.51,332.39 L250.24,330.49 L251.96,328.56 L253.68,326.62 L255.40,324.67 L257.12,322.70 L258.84,320.72 L260.56,318.73 L262.28,316.73 L264.00,314.71 L265.72,312.69 L267.44,310.65 L269.16,308.60 L270.88,306.55 L272.61,304.48 L274.33,302.41 L276.05,300.32 L277.77,298.23 L279.49,296.14 L281.21,294.04 L282.93,291.93 L284.65,289.82 L286.37,287.70 L288.09,285.58 L289.81,283.45 L291.53,281.33 L293.26,279.20 L294.98,277.07 L296.70,274.94 L298.42,272.81 L300.14,270.69 L301.86,268.56 L303.58,266.44 L305.30,264.32 L307.02,262.20 L308.74,260.09 L310.46,257.98 L312.18,255.88 L313.90,253.79 L315.63,251.70 L317.35,249.62 L319.07,247.55 L320.79,245.49 L322.51,243.44 L324.23,241.41 L325.95,239.38 L327.67,237.37 L329.39,235.37 L331.11,233.38 L332.83,231.41 L334.55,229.46 L336.28,227.52 L338.00,225.60 L339.72,223.70 L341.44,221.81 L343.16,219.95 L344.88,218.10 L346.60,216.28 L348.32,214.48 L350.04,212.70 L351.76,210.94 L353.48,209.20 L355.20,207.50 L356.93,205.81 L358.65,204.15 L360.37,202.52 L362.09,200.92 L363.81,199.34 L365.53,197.79 L367.25,196.28 L368.97,194.79 L370.69,193.33 L372.41,191.90 L374.13,190.50 L375.85,189.14 L377.57,187.81 L379.30,186.51 L381.02,185.25 L382.74,184.02 L384.46,182.82 L386.18,181.67 L387.90,180.54 L389.62,179.46 L391.34,178.41 L393.06,177.39 L394.78,176.42 L396.50,175.48 L398.22,174.59 L399.95,173.73 L401.67,172.91 L403.39,172.13 L405.11,171.39 L406.83,170.69 L408.55,170.04 L410.27,169.42 L411.99,168.84 L413.71,168.31 L415.43,167.82 L417.15,167.37 L418.87,166.96 L420.60,166.60 L422.32,166.27 L424.04,165.99 L425.76,165.76 L427.48,165.56 L429.20,165.41 L430.92,165.30 L432.64,165.24 L434.36,165.22 L436.08,165.24 L437.80,165.30 L439.52,165.41 L441.24,165.56 L442.97,165.76 L444.69,165.99 L446.41,166.27 L448.13,166.60 L449.85,166.96 L451.57,167.37 L453.29,167.82 L455.01,168.31 L456.73,168.84 L458.45,169.42 L460.17,170.04 L461.89,170.69 L463.62,171.39 L465.34,172.13 L467.06,172.91 L468.78,173.73 L470.50,174.59 L472.22,175.48 L473.94,176.42 L475.66,177.39 L477.38,178.41 L479.10,179.46 L480.82,180.54 L482.54,181.67 L484.26,182.82 L485.99,184.02 L487.71,185.25 L489.43,186.51 L491.15,187.81 L492.87,189.14 L494.59,190.50 L496.31,191.90 L498.03,193.33 L499.75,194.79 L501.47,196.28 L503.19,197.79 L504.91,199.34 L506.64,200.92 L508.36,202.52 L510.08,204.15 L511.80,205.81 L513.52,207.50 L515.24,209.20 L516.96,210.94 L518.68,212.70 L520.40,214.48 L522.12,216.28 L523.84,218.10 L525.56,219.95 L527.29,221.81 L529.01,223.70 L530.73,225.60 L532.45,227.52 L534.17,229.46 L535.89,231.41 L537.61,233.38 L539.33,235.37 L541.05,237.37 L542.77,239.38 L544.49,241.41 L546.21,243.44 L547.93,245.49 L549.66,247.55 L551.38,249.62 L553.10,251.70 L554.82,253.79 L556.54,255.88 L558.26,257.98 L559.98,260.09 L561.70,262.20 L563.42,264.32 L565.14,266.44 L566.86,268.56 L568.58,270.69 L570.31,272.81 L572.03,274.94 L573.75,277.07 L575.47,279.20 L577.19,281.33 L578.91,283.45 L580.63,285.58 L582.35,287.70 L584.07,289.82 L585.79,291.93 L587.51,294.04 L589.23,296.14 L590.95,298.23 L592.68,300.32 L594.40,302.41 L596.12,304.48 L597.84,306.55 L599.56,308.60 L601.28,310.65 L603.00,312.69 L604.72,314.71 L606.44,316.73 L608.16,318.73 L609.88,320.72 L611.60,322.70 L613.33,324.67 L615.05,326.62 L616.77,328.56 L618.49,330.49 L620.21,332.39 L621.93,334.29 L623.65,336.17 L625.37,338.03 L627.09,339.88 L628.81,341.71 L630.53,343.52 L632.25,345.31 L633.98,347.09 L635.70,348.85 L637.42,350.59 L639.14,352.31 L640.86,354.01 L642.58,355.70 L644.30,357.36 L646.02,359.01 L647.74,360.63 L649.46,362.24 L651.18,363.82 L652.90,365.39 L654.62,366.93 L656.35,368.45 L658.07,369.96 L659.79,371.44 L661.51,372.90 L663.23,374.33 L664.95,375.75 L666.67,377.14 L668.39,378.52 L670.11,379.87 L671.83,381.20 L673.55,382.50 L675.27,383.79 L677.00,385.05 L678.72,386.29 L680.44,387.51 L682.16,388.71 L683.88,389.88 L685.60,391.03 L687.32,392.16 L689.04,393.27 L690.76,394.35 L692.48,395.41 L694.20,396.45 L695.92,397.47 L697.65,398.46 L699.37,399.44 L701.09,400.39 L702.81,401.32 L704.53,402.22 L706.25,403.11 L707.97,403.97 L709.69,404.81 L711.41,405.63 L713.13,406.42 L714.85,407.20 L716.57,407.95 L718.29,408.68 L720.02,409.39 L721.74,410.08 L723.46,410.75 L725.18,411.39 L726.90,412.01 L728.62,412.62 L730.34,413.20 L732.06,413.76 L733.78,414.30 L735.50,414.81 L737.22,415.31 L738.94,415.79 L740.67,416.24 L742.39,416.68 L744.11,417.09 L745.83,417.48 L747.55,417.85 L749.27,418.21 L750.99,418.54 L752.71,418.85 L754.43,419.14 L756.15,419.41 L757.87,419.66 L759.59,419.89 L761.31,420.10 L763.04,420.29 L764.76,420.46 L766.48,420.61 L768.20,420.74 L769.92,420.85 L771.64,420.94 L773.36,421.01 L775.08,421.06 L776.80,421.09 L778.52,421.10" fill="none" stroke="#00aa00" stroke-width="3.4" stroke-dasharray="7.165 7.165" stroke-linejoin="round"/>
<g font-family="'Liberation Sans', sans-serif" font-size="24.5" fill="#000" stroke="#000" stroke-width="0.35" stroke-linejoin="round" opacity="0.999">
<text transform="translate(70.9,429.40) rotate(0.03) scale(0.945,1)" font-size="25" text-anchor="end">0.0</text>
<text transform="translate(70.9,329.50) rotate(0.03) scale(0.945,1)" font-size="25" text-anchor="end">0.5</text>
<text transform="translate(70.9,229.60) rotate(0.03) scale(0.945,1)" font-size="25" text-anchor="end">.0</text>
<path transform="translate(38.36,229.60) scale(0.011536,-0.012207)" stroke-width="28.7" d="M763 0H583V1147Q518 1085 412.5 1023Q307 961 223 930V1104Q374 1175 487 1276Q600 1377 647 1472H763Z"/>
<text transform="translate(70.9,129.70) rotate(0.03) scale(0.945,1)" font-size="25" text-anchor="end">.5</text>
<path transform="translate(38.36,129.70) scale(0.011536,-0.012207)" stroke-width="28.7" d="M763 0H583V1147Q518 1085 412.5 1023Q307 961 223 930V1104Q374 1175 487 1276Q600 1377 647 1472H763Z"/>
<text transform="translate(70.9,29.80) rotate(0.03) scale(0.945,1)" font-size="25" text-anchor="end">2.0</text>
<text transform="translate(90.20,469.25) rotate(0.03) scale(1.03,1)" text-anchor="middle">0</text>
<path transform="translate(192.73,469.40) scale(0.012322,-0.011963)" stroke-width="29.3" d="M763 0H583V1147Q518 1085 412.5 1023Q307 961 223 930V1104Q374 1175 487 1276Q600 1377 647 1472H763Z"/>
<text transform="translate(309.30,469.25) rotate(0.03) scale(1.03,1)" text-anchor="middle">2</text>
<text transform="translate(418.85,469.25) rotate(0.03) scale(1.03,1)" text-anchor="middle">3</text>
<text transform="translate(528.40,469.25) rotate(0.03) scale(1.03,1)" text-anchor="middle">4</text>
<text transform="translate(637.95,469.25) rotate(0.03) scale(1.03,1)" text-anchor="middle">5</text>
<text transform="translate(747.50,469.25) rotate(0.03) scale(1.03,1)" text-anchor="middle">6</text>
<text transform="translate(434.3,507.2) scale(0.97,1)" font-size="25" text-anchor="middle">t</text>
<text transform="translate(21.3,222) rotate(-90) scale(1.008,1)" font-size="23.3" stroke-width="0.12" text-anchor="middle">Complexity</text>
</g>
</svg>
</body></html>
